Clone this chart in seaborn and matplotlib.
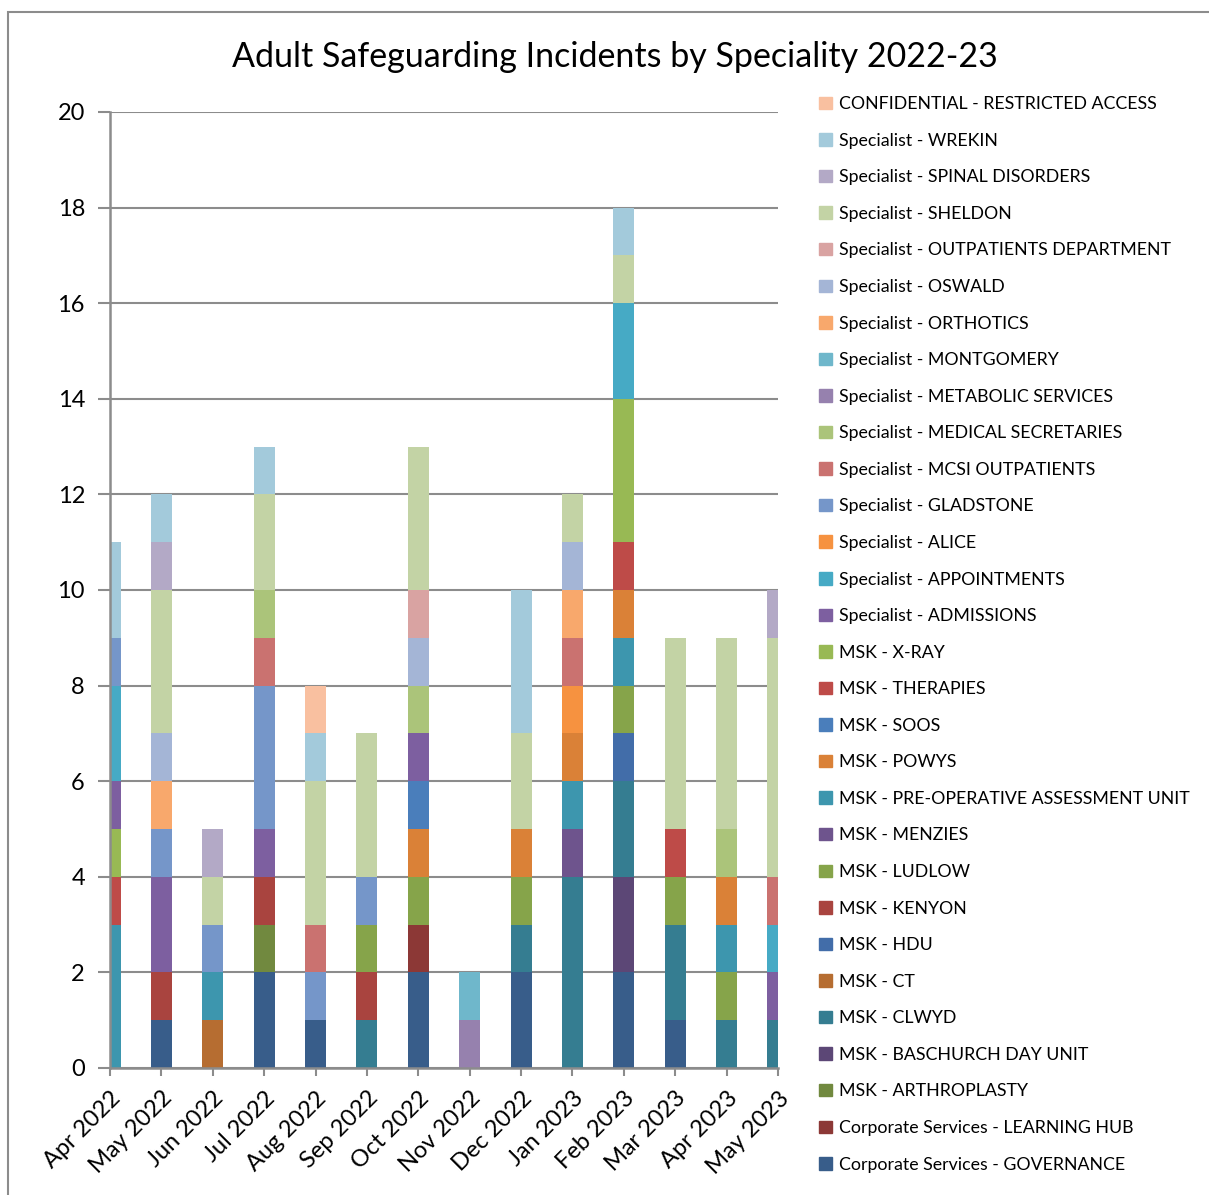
import matplotlib
matplotlib.use("Agg")
import matplotlib.pyplot as plt
import matplotlib.patches as mpatches
import seaborn as sns
import pandas as pd

months = ["Apr 2022", "May 2022", "Jun 2022", "Jul 2022", "Aug 2022", "Sep 2022", "Oct 2022",
          "Nov 2022", "Dec 2022", "Jan 2023", "Feb 2023", "Mar 2023", "Apr 2023", "May 2023"]

# stacking order, bottom to top
categories = [
    "Corporate Services - GOVERNANCE",
    "Corporate Services - LEARNING HUB",
    "MSK - ARTHROPLASTY",
    "MSK - BASCHURCH DAY UNIT",
    "MSK - CLWYD",
    "MSK - CT",
    "MSK - HDU",
    "MSK - KENYON",
    "MSK - LUDLOW",
    "MSK - MENZIES",
    "MSK - PRE-OPERATIVE ASSESSMENT UNIT",
    "MSK - POWYS",
    "MSK - SOOS",
    "MSK - THERAPIES",
    "MSK - X-RAY",
    "Specialist - ADMISSIONS",
    "Specialist - APPOINTMENTS",
    "Specialist - ALICE",
    "Specialist - GLADSTONE",
    "Specialist - MCSI OUTPATIENTS",
    "Specialist - MEDICAL SECRETARIES",
    "Specialist - METABOLIC SERVICES",
    "Specialist - MONTGOMERY",
    "Specialist - ORTHOTICS",
    "Specialist - OSWALD",
    "Specialist - OUTPATIENTS DEPARTMENT",
    "Specialist - SHELDON",
    "Specialist - SPINAL DISORDERS",
    "Specialist - WREKIN",
    "CONFIDENTIAL - RESTRICTED ACCESS",
]

colors = [
    "#385d8a", "#8c3836", "#71893f", "#5c4776", "#357d91", "#b66d31", "#426da9", "#a9443f",
    "#86a44a", "#6e548d", "#3d96ae", "#da8137", "#4a7ebb", "#be4b48", "#98b954",
    "#7d5fa0", "#46aac5", "#f69240", "#7596c9", "#ca7270", "#abc47a", "#9681ae",
    "#6fb7cb", "#f8a86c", "#a4b5d6", "#d9a3a2", "#c3d3a5", "#b3a9c6", "#a3cadb", "#f9c0a0",
]

# incidents per month: {category: count}
counts = {
    "Apr 2022": {"MSK - PRE-OPERATIVE ASSESSMENT UNIT": 3, "MSK - THERAPIES": 1, "MSK - X-RAY": 1,
                 "Specialist - ADMISSIONS": 1, "Specialist - APPOINTMENTS": 2,
                 "Specialist - GLADSTONE": 1, "Specialist - WREKIN": 2},
    "May 2022": {"Corporate Services - GOVERNANCE": 1, "MSK - KENYON": 1, "Specialist - ADMISSIONS": 2,
                 "Specialist - GLADSTONE": 1, "Specialist - ORTHOTICS": 1, "Specialist - OSWALD": 1,
                 "Specialist - SHELDON": 3, "Specialist - SPINAL DISORDERS": 1, "Specialist - WREKIN": 1},
    "Jun 2022": {"MSK - CT": 1, "MSK - PRE-OPERATIVE ASSESSMENT UNIT": 1, "Specialist - GLADSTONE": 1,
                 "Specialist - SHELDON": 1, "Specialist - SPINAL DISORDERS": 1},
    "Jul 2022": {"Corporate Services - GOVERNANCE": 2, "MSK - ARTHROPLASTY": 1, "MSK - KENYON": 1,
                 "Specialist - ADMISSIONS": 1, "Specialist - GLADSTONE": 3,
                 "Specialist - MCSI OUTPATIENTS": 1, "Specialist - MEDICAL SECRETARIES": 1,
                 "Specialist - SHELDON": 2, "Specialist - WREKIN": 1},
    "Aug 2022": {"Corporate Services - GOVERNANCE": 1, "Specialist - GLADSTONE": 1,
                 "Specialist - MCSI OUTPATIENTS": 1, "Specialist - SHELDON": 3, "Specialist - WREKIN": 1,
                 "CONFIDENTIAL - RESTRICTED ACCESS": 1},
    "Sep 2022": {"MSK - CLWYD": 1, "MSK - KENYON": 1, "MSK - LUDLOW": 1, "Specialist - GLADSTONE": 1,
                 "Specialist - SHELDON": 3},
    "Oct 2022": {"Corporate Services - GOVERNANCE": 2, "Corporate Services - LEARNING HUB": 1,
                 "MSK - LUDLOW": 1, "MSK - POWYS": 1, "MSK - SOOS": 1, "Specialist - ADMISSIONS": 1,
                 "Specialist - MEDICAL SECRETARIES": 1, "Specialist - OSWALD": 1,
                 "Specialist - OUTPATIENTS DEPARTMENT": 1, "Specialist - SHELDON": 3},
    "Nov 2022": {"Specialist - METABOLIC SERVICES": 1, "Specialist - MONTGOMERY": 1},
    "Dec 2022": {"Corporate Services - GOVERNANCE": 2, "MSK - CLWYD": 1, "MSK - LUDLOW": 1, "MSK - POWYS": 1,
                 "Specialist - SHELDON": 2, "Specialist - WREKIN": 3},
    "Jan 2023": {"MSK - CLWYD": 4, "MSK - MENZIES": 1, "MSK - PRE-OPERATIVE ASSESSMENT UNIT": 1,
                 "MSK - POWYS": 1, "Specialist - ALICE": 1, "Specialist - MCSI OUTPATIENTS": 1,
                 "Specialist - ORTHOTICS": 1, "Specialist - OSWALD": 1, "Specialist - SHELDON": 1},
    "Feb 2023": {"Corporate Services - GOVERNANCE": 2, "MSK - BASCHURCH DAY UNIT": 2, "MSK - CLWYD": 2,
                 "MSK - HDU": 1, "MSK - LUDLOW": 1, "MSK - PRE-OPERATIVE ASSESSMENT UNIT": 1,
                 "MSK - POWYS": 1, "MSK - THERAPIES": 1, "MSK - X-RAY": 3, "Specialist - APPOINTMENTS": 2,
                 "Specialist - SHELDON": 1, "Specialist - WREKIN": 1},
    "Mar 2023": {"Corporate Services - GOVERNANCE": 1, "MSK - CLWYD": 2, "MSK - LUDLOW": 1,
                 "MSK - THERAPIES": 1, "Specialist - SHELDON": 4},
    "Apr 2023": {"MSK - CLWYD": 1, "MSK - LUDLOW": 1, "MSK - PRE-OPERATIVE ASSESSMENT UNIT": 1,
                 "MSK - POWYS": 1, "Specialist - MEDICAL SECRETARIES": 1, "Specialist - SHELDON": 4},
    "May 2023": {"MSK - CLWYD": 1, "Specialist - ADMISSIONS": 1, "Specialist - APPOINTMENTS": 1,
                 "Specialist - MCSI OUTPATIENTS": 1, "Specialist - SHELDON": 5,
                 "Specialist - SPINAL DISORDERS": 1},
}

rows = []
for i, m in enumerate(months):
    for cat, n in counts[m].items():
        rows.append({"pos": i, "category": cat, "count": n})
df = pd.DataFrame(rows)

palette = dict(zip(categories, colors))
top_down = categories[::-1]

plt.rcParams["font.family"] = ["Lato", "DejaVu Sans"]
fig = plt.figure(figsize=(12.09, 11.95), dpi=100)
ax = fig.add_axes([110 / 1209, 1 - 1068 / 1195, 668 / 1209, 956 / 1195])

# seaborn stacks the first hue level on top
sns.histplot(data=df, x="pos", hue="category", weights="count", hue_order=top_down,
             palette=palette, multiple="stack", discrete=True, shrink=0.41,
             alpha=1, linewidth=0, legend=False, ax=ax)

grid_c = "#8c8c8c"
ax.set_xlim(0, 13)
ax.set_ylim(0, 20)
ax.set_yticks(range(0, 21, 2))
ax.set_xticks(range(len(months)))
ax.set_xticklabels(months, rotation=45, ha="right", va="top", rotation_mode="anchor", fontsize=17)
ax.tick_params(axis="y", labelsize=17, length=9, color=grid_c, width=1.5, pad=9)
ax.tick_params(axis="x", length=6, color=grid_c, width=1.5, pad=8)
ax.yaxis.grid(True, color=grid_c, linewidth=1.5)
ax.set_axisbelow(True)
ax.set_xlabel("")
ax.set_ylabel("")
for s in ["top", "right"]:
    ax.spines[s].set_visible(False)
for s in ["left", "bottom"]:
    ax.spines[s].set_color(grid_c)
    ax.spines[s].set_linewidth(1.8)

fig.text(615 / 1209, 1 - 57 / 1195, "Adult Safeguarding Incidents by Speciality 2022-23",
         ha="center", va="center", fontsize=24.5)

handles = [mpatches.Patch(color=palette[c], label=c) for c in top_down]
fig.legend(handles=handles, loc="upper left", bbox_to_anchor=(812 / 1209, 1 - 89 / 1195),
           frameon=False, fontsize=12.8, handlelength=0.7, handleheight=0.7,
           handletextpad=0.4, labelspacing=1.157, borderaxespad=0)

# outer chart border
fig.patches.append(mpatches.Rectangle((8 / 1209, -0.1), 1.2, (1 - 12 / 1195) + 0.1,
                                      transform=fig.transFigure, fill=False,
                                      edgecolor="#8c8c8c", linewidth=1.5))

fig.savefig("out.png", dpi=100)
